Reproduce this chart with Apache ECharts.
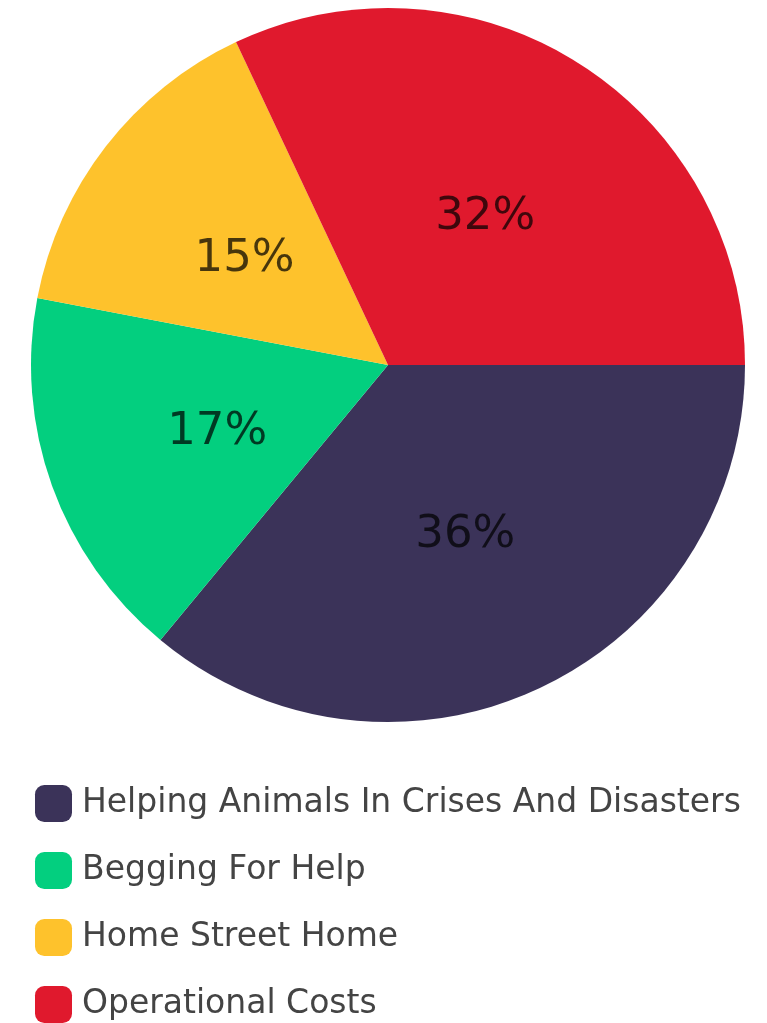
<!DOCTYPE html>
<html>
<head>
<meta charset="utf-8">
<script src="https://cdn.jsdelivr.net/npm/echarts@6/dist/echarts.min.js"></script>
<style>
html,body{margin:0;padding:0;background:#fff;}
#main{width:767px;height:1023px;}
</style>
</head>
<body>
<div id="main"></div>
<script>
const categories = ["Helping Animals In Crises And Disasters", "Begging For Help", "Home Street Home", "Operational Costs"];
const values = [36, 17, 15, 32];
const colors = ["#3b3359", "#03cf7f", "#fec22c", "#e0192d"];

const chart = echarts.init(document.getElementById('main'));
chart.setOption({
  animation: false,
  backgroundColor: '#fff',
  color: colors,
  legend: {
    orient: 'vertical',
    left: 35,
    top: 785,
    height: 400,
    padding: 0,
    icon: 'roundRect',
    itemWidth: 37,
    itemHeight: 37,
    itemGap: 30,
    data: categories,
    textStyle: { fontFamily: 'DejaVu Sans', fontSize: 33, color: '#444', lineHeight: 37, padding: [0,0,0,5] }
  },
  series: [{
    type: 'pie',
    center: [388, 365],
    radius: [0, 357],
    startAngle: 0,
    clockwise: true,
    avoidLabelOverlap: false,
    label: {
      show: true,
      position: 'inside',
      formatter: '{c}%',
      fontFamily: 'DejaVu Sans',
      fontSize: 45,
      color: 'rgba(0,0,0,0.72)',
      offset: [0, 6]
    },
    labelLine: { show: false },
    itemStyle: { borderWidth: 0 },
    emphasis: { disabled: true },
    data: categories.map((n, i) => ({ name: n, value: values[i] }))
  }]
});
</script>
</body>
</html>
